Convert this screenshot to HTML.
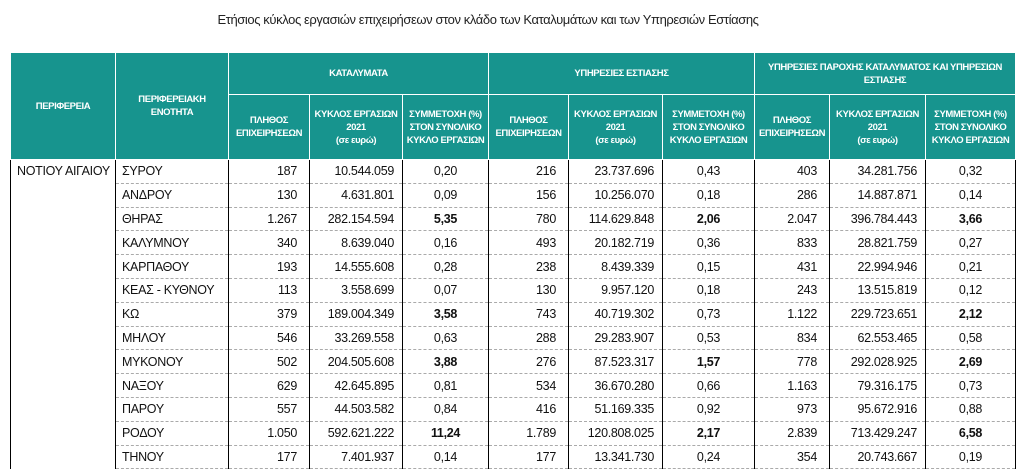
<!DOCTYPE html>
<html><head><meta charset="utf-8"><style>
body{margin:0;width:1024px;height:472px;background:#fff;overflow:hidden;position:relative;font-family:"Liberation Sans Narrow","Liberation Sans",sans-serif}
.t{position:absolute;top:12px;left:0;width:976px;text-align:center;font-size:13px;color:#222;letter-spacing:-0.4px}
table{position:absolute;left:10px;top:52px;border-collapse:collapse;table-layout:fixed}
th{background:#17948e;color:#fff;font-size:9.5px;font-weight:bold;border:1px solid #fff;line-height:13px;padding:0;letter-spacing:-0.4px}
td{font-size:12.5px;color:#111;height:22.8px;padding:0;border-left:1px solid #000;border-right:1px solid #000;border-bottom:1px dashed #aaa;letter-spacing:-0.3px}
td.n{text-align:right;padding-right:12px}
td.a{text-align:right;padding-right:8px}
td.p{text-align:center}
td.l{padding-left:6px}
b{font-weight:bold}
</style></head><body>
<div class="t">Ετήσιος κύκλος εργασιών επιχειρήσεων στον κλάδο των Καταλυμάτων και των Υπηρεσιών Εστίασης</div>
<table>
<colgroup><col style="width:105px"><col style="width:113px"><col style="width:81px"><col style="width:93px"><col style="width:86px"><col style="width:80px"><col style="width:94px"><col style="width:92px"><col style="width:75px"><col style="width:96px"><col style="width:90px"></colgroup>
<tr style="height:42px"><th rowspan="2" style="height:106px">ΠΕΡΙΦΕΡΕΙΑ</th><th rowspan="2">ΠΕΡΙΦΕΡΕΙΑΚΗ<br>ΕΝΟΤΗΤΑ</th><th colspan="3">ΚΑΤΑΛΥΜΑΤΑ</th><th colspan="3">ΥΠΗΡΕΣΙΕΣ ΕΣΤΙΑΣΗΣ</th><th colspan="3">ΥΠΗΡΕΣΙΕΣ ΠΑΡΟΧΗΣ ΚΑΤΑΛΥΜΑΤΟΣ ΚΑΙ ΥΠΗΡΕΣΙΩΝ<br>ΕΣΤΙΑΣΗΣ</th></tr>
<tr style="height:64px">
<th>ΠΛΗΘΟΣ<br>ΕΠΙΧΕΙΡΗΣΕΩΝ</th><th>ΚΥΚΛΟΣ ΕΡΓΑΣΙΩΝ<br>2021<br>(σε ευρώ)</th><th>ΣΥΜΜΕΤΟΧΗ (%)<br>ΣΤΟΝ ΣΥΝΟΛΙΚΟ<br>ΚΥΚΛΟ ΕΡΓΑΣΙΩΝ</th>
<th>ΠΛΗΘΟΣ<br>ΕΠΙΧΕΙΡΗΣΕΩΝ</th><th>ΚΥΚΛΟΣ ΕΡΓΑΣΙΩΝ<br>2021<br>(σε ευρώ)</th><th>ΣΥΜΜΕΤΟΧΗ (%)<br>ΣΤΟΝ ΣΥΝΟΛΙΚΟ<br>ΚΥΚΛΟ ΕΡΓΑΣΙΩΝ</th>
<th>ΠΛΗΘΟΣ<br>ΕΠΙΧΕΙΡΗΣΕΩΝ</th><th>ΚΥΚΛΟΣ ΕΡΓΑΣΙΩΝ<br>2021<br>(σε ευρώ)</th><th>ΣΥΜΜΕΤΟΧΗ (%)<br>ΣΤΟΝ ΣΥΝΟΛΙΚΟ<br>ΚΥΚΛΟ ΕΡΓΑΣΙΩΝ</th></tr>
<tr><td class="l" rowspan="13" style="vertical-align:top;padding-top:4px;border-bottom:none">ΝΟΤΙΟΥ ΑΙΓΑΙΟΥ</td><td class="l">ΣΥΡΟΥ</td><td class="n">187</td><td class="a">10.544.059</td><td class="p">0,20</td><td class="n">216</td><td class="a">23.737.696</td><td class="p">0,43</td><td class="n">403</td><td class="a">34.281.756</td><td class="p">0,32</td></tr>
<tr><td class="l">ΑΝΔΡΟΥ</td><td class="n">130</td><td class="a">4.631.801</td><td class="p">0,09</td><td class="n">156</td><td class="a">10.256.070</td><td class="p">0,18</td><td class="n">286</td><td class="a">14.887.871</td><td class="p">0,14</td></tr>
<tr><td class="l">ΘΗΡΑΣ</td><td class="n">1.267</td><td class="a">282.154.594</td><td class="p"><b>5,35</b></td><td class="n">780</td><td class="a">114.629.848</td><td class="p"><b>2,06</b></td><td class="n">2.047</td><td class="a">396.784.443</td><td class="p"><b>3,66</b></td></tr>
<tr><td class="l">ΚΑΛΥΜΝΟΥ</td><td class="n">340</td><td class="a">8.639.040</td><td class="p">0,16</td><td class="n">493</td><td class="a">20.182.719</td><td class="p">0,36</td><td class="n">833</td><td class="a">28.821.759</td><td class="p">0,27</td></tr>
<tr><td class="l">ΚΑΡΠΑΘΟΥ</td><td class="n">193</td><td class="a">14.555.608</td><td class="p">0,28</td><td class="n">238</td><td class="a">8.439.339</td><td class="p">0,15</td><td class="n">431</td><td class="a">22.994.946</td><td class="p">0,21</td></tr>
<tr><td class="l">ΚΕΑΣ - ΚΥΘΝΟΥ</td><td class="n">113</td><td class="a">3.558.699</td><td class="p">0,07</td><td class="n">130</td><td class="a">9.957.120</td><td class="p">0,18</td><td class="n">243</td><td class="a">13.515.819</td><td class="p">0,12</td></tr>
<tr><td class="l">ΚΩ</td><td class="n">379</td><td class="a">189.004.349</td><td class="p"><b>3,58</b></td><td class="n">743</td><td class="a">40.719.302</td><td class="p">0,73</td><td class="n">1.122</td><td class="a">229.723.651</td><td class="p"><b>2,12</b></td></tr>
<tr><td class="l">ΜΗΛΟΥ</td><td class="n">546</td><td class="a">33.269.558</td><td class="p">0,63</td><td class="n">288</td><td class="a">29.283.907</td><td class="p">0,53</td><td class="n">834</td><td class="a">62.553.465</td><td class="p">0,58</td></tr>
<tr><td class="l">ΜΥΚΟΝΟΥ</td><td class="n">502</td><td class="a">204.505.608</td><td class="p"><b>3,88</b></td><td class="n">276</td><td class="a">87.523.317</td><td class="p"><b>1,57</b></td><td class="n">778</td><td class="a">292.028.925</td><td class="p"><b>2,69</b></td></tr>
<tr><td class="l">ΝΑΞΟΥ</td><td class="n">629</td><td class="a">42.645.895</td><td class="p">0,81</td><td class="n">534</td><td class="a">36.670.280</td><td class="p">0,66</td><td class="n">1.163</td><td class="a">79.316.175</td><td class="p">0,73</td></tr>
<tr><td class="l">ΠΑΡΟΥ</td><td class="n">557</td><td class="a">44.503.582</td><td class="p">0,84</td><td class="n">416</td><td class="a">51.169.335</td><td class="p">0,92</td><td class="n">973</td><td class="a">95.672.916</td><td class="p">0,88</td></tr>
<tr><td class="l">ΡΟΔΟΥ</td><td class="n">1.050</td><td class="a">592.621.222</td><td class="p"><b>11,24</b></td><td class="n">1.789</td><td class="a">120.808.025</td><td class="p"><b>2,17</b></td><td class="n">2.839</td><td class="a">713.429.247</td><td class="p"><b>6,58</b></td></tr>
<tr><td class="l">ΤΗΝΟΥ</td><td class="n">177</td><td class="a">7.401.937</td><td class="p">0,14</td><td class="n">177</td><td class="a">13.341.730</td><td class="p">0,24</td><td class="n">354</td><td class="a">20.743.667</td><td class="p">0,19</td></tr>
</table>
</body></html>
